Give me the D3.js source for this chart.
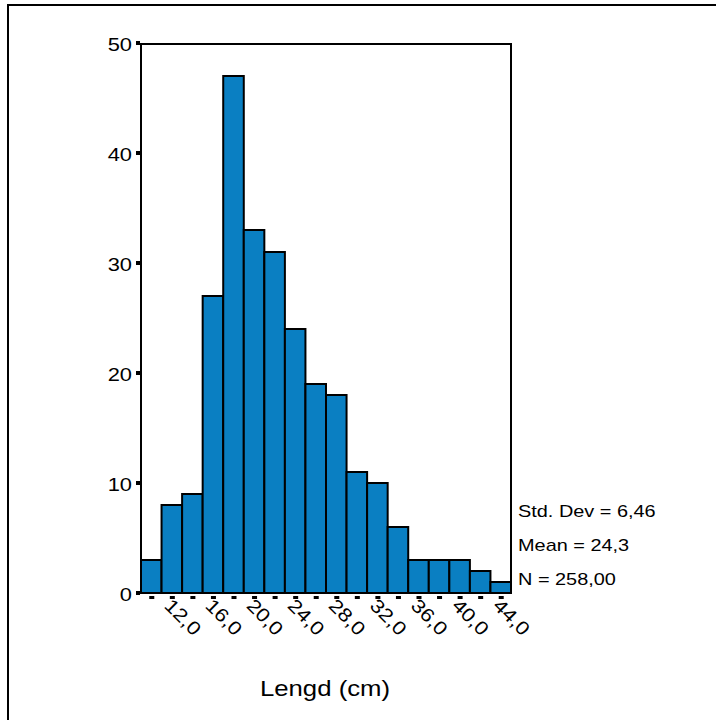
<!DOCTYPE html>
<html>
<head>
<meta charset="utf-8">
<script src="https://cdn.jsdelivr.net/npm/d3@7"></script>
<style>
  body { margin: 0; background: #fff; }
  text { font-family: "Liberation Sans", Arial, sans-serif; fill: #000; }
</style>
</head>
<body>
<svg id="chart" width="716" height="720"></svg>
<script>
// bin centres (cm), each bin 2 cm wide
const binCenters = [10, 12, 14, 16, 18, 20, 22, 24, 26, 28, 30, 32, 34, 36, 38, 40, 42, 44];
const counts = [3, 8, 9, 27, 47, 33, 31, 24, 19, 18, 11, 10, 6, 3, 3, 3, 2, 1];
const xTickLabels = [12, 16, 20, 24, 28, 32, 36, 40, 44];
const yTicks = [0, 10, 20, 30, 40, 50];
const stats = ["Std. Dev = 6,46", "Mean = 24,3", "N = 258,00"];
const binWidth = 2;

const svg = d3.select("#chart");
const plotLeft = 141, plotRight = 511, plotTop = 43, plotBottom = 593;
// the original text is a bit wider than Liberation Sans
const stretch = 1.15;

const x = d3.scaleLinear().domain([9, 45]).range([plotLeft, plotRight]);
const y = d3.scaleLinear().domain([0, 50]).range([plotBottom, plotTop]);

// outer border (left + top only)
svg.append("path")
  .attr("d", "M8,720 V5 H716")
  .attr("fill", "none")
  .attr("stroke", "#000")
  .attr("stroke-width", 2);

/* ------- BARS -------*/
svg.append("g")
  .selectAll("rect")
  .data(binCenters)
  .enter()
  .append("rect")
  .attr("x", d => x(d - binWidth / 2))
  .attr("width", d => x(d + binWidth / 2) - x(d - binWidth / 2))
  .attr("y", (d, i) => y(counts[i]))
  .attr("height", (d, i) => y(0) - y(counts[i]))
  .attr("fill", "#0a7fc2")
  .attr("stroke", "#000")
  .attr("stroke-width", 2);

// plot frame
svg.append("rect")
  .attr("x", plotLeft)
  .attr("y", y(50) + 1)
  .attr("width", plotRight - plotLeft)
  .attr("height", plotBottom - y(50) - 1)
  .attr("fill", "none")
  .attr("stroke", "#000")
  .attr("stroke-width", 2);

/* ------- Y AXIS -------*/
const yAxis = svg.append("g");
yAxis.selectAll("rect")
  .data(yTicks)
  .enter()
  .append("rect")
  .attr("x", plotLeft - 5)
  .attr("y", d => y(d) - 2)
  .attr("width", 4)
  .attr("height", 4)
  .attr("fill", "#000");
yAxis.selectAll("text")
  .data(yTicks)
  .enter()
  .append("text")
  .attr("transform", d => `translate(${plotLeft - 9},${y(d) + 1}) scale(${stretch},1)`)
  .attr("dy", "0.35em")
  .attr("text-anchor", "end")
  .attr("font-size", 19)
  .text(d => d);

/* ------- X AXIS -------*/
const xAxis = svg.append("g");
xAxis.selectAll("rect")
  .data(binCenters)
  .enter()
  .append("rect")
  .attr("x", d => x(d) - 2)
  .attr("y", plotBottom + 3)
  .attr("width", 5)
  .attr("height", 3)
  .attr("fill", "#000");
xAxis.selectAll("text")
  .data(xTickLabels)
  .enter()
  .append("text")
  .attr("transform", d => `translate(${x(d) + 1},${plotBottom + 4}) rotate(45) scale(${stretch},1)`)
  .attr("dy", "0.72em")
  .attr("font-size", 19)
  .text(d => d3.format(".1f")(d).replace(".", ","));

/* ------- STATS -------*/
svg.append("g")
  .selectAll("text")
  .data(stats)
  .enter()
  .append("text")
  .attr("transform", (d, i) => `translate(${plotRight + 7},${517 + i * 34}) scale(${stretch + 0.02},1)`)
  .attr("font-size", 17)
  .text(d => d);

// axis title
svg.append("text")
  .attr("transform", `translate(325,696) scale(${stretch + 0.02},1)`)
  .attr("text-anchor", "middle")
  .attr("font-size", 22)
  .text("Lengd (cm)");
</script>
</body>
</html>
